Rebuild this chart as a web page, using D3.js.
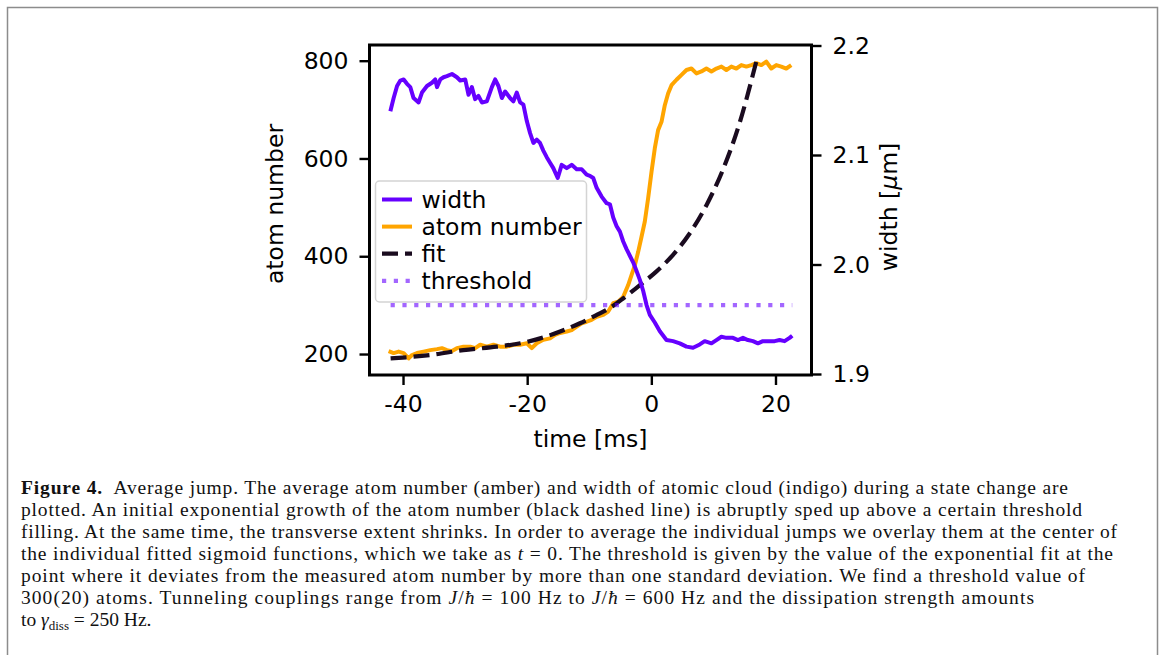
<!DOCTYPE html>
<html><head><meta charset="utf-8">
<script src="https://cdn.jsdelivr.net/npm/d3@7"></script>
<style>body{margin:0;background:#fff}svg{display:block}</style>
</head><body>
<svg id="chart" width="1163" height="655"></svg>
<script>
// ---- data ----
const widthTime = [-42.04,-41.51,-40.96,-40.43,-39.90,-39.36,-38.83,-38.30,-37.49,-36.95,-36.14,-35.34,-34.81,-34.53,-34.00,-33.47,-32.93,-32.12,-31.32,-30.79,-29.98,-29.45,-28.91,-28.38,-27.85,-27.30,-26.50,-25.69,-25.16,-24.63,-24.08,-23.55,-22.75,-22.22,-21.67,-21.14,-20.61,-20.06,-19.53,-19.00,-18.46,-17.93,-17.40,-16.85,-16.32,-15.79,-15.08,-14.44,-13.63,-12.83,-12.03,-11.22,-10.42,-9.89,-9.36,-8.81,-8.01,-7.20,-6.67,-6.14,-5.59,-5.06,-4.53,-3.99,-3.46,-2.93,-2.38,-1.85,-1.32,-0.77,-0.24,0.56,1.37,2.44,3.50,4.58,5.66,6.72,7.80,8.60,9.68,10.48,11.29,12.09,13.15,13.95,14.76,15.56,16.37,17.17,17.97,19.05,19.86,20.66,21.46,22.27,22.70];
const widthValues = [2.140,2.152,2.163,2.168,2.169,2.165,2.162,2.152,2.148,2.157,2.163,2.166,2.169,2.162,2.169,2.171,2.172,2.174,2.171,2.168,2.169,2.155,2.162,2.151,2.154,2.148,2.149,2.162,2.169,2.163,2.152,2.158,2.152,2.149,2.157,2.148,2.146,2.131,2.120,2.111,2.114,2.111,2.104,2.098,2.093,2.088,2.079,2.091,2.088,2.091,2.087,2.087,2.082,2.081,2.079,2.070,2.062,2.056,2.055,2.043,2.035,2.030,2.021,2.014,2.008,2.002,1.994,1.986,1.976,1.963,1.954,1.947,1.939,1.931,1.930,1.928,1.925,1.924,1.927,1.930,1.928,1.931,1.934,1.933,1.933,1.931,1.933,1.931,1.930,1.928,1.930,1.930,1.930,1.931,1.930,1.933,1.935];

const atomTime = [-42.32,-41.51,-40.71,-39.90,-39.10,-38.55,-37.75,-36.69,-35.61,-34.53,-33.73,-32.93,-32.12,-31.32,-30.26,-29.18,-28.38,-27.57,-26.50,-25.43,-24.36,-23.28,-22.22,-21.14,-20.06,-19.26,-18.46,-17.40,-16.32,-15.52,-14.71,-13.63,-12.83,-12.03,-11.22,-10.42,-9.62,-8.81,-7.75,-6.95,-6.14,-5.34,-4.53,-3.73,-3.18,-2.65,-2.12,-1.58,-1.05,-0.51,0.03,0.56,1.09,1.64,2.17,2.70,3.25,4.05,4.86,5.66,6.46,7.27,8.07,8.87,9.68,10.48,11.29,12.09,12.89,13.70,14.50,15.31,16.11,16.91,17.72,18.52,19.32,20.13,20.93,21.74,22.54];
const atomValues = [206,202,205,202,191,198,202,205,208,210,212,208,206,212,215,215,212,219,215,219,215,215,219,219,222,212,222,229,232,239,243,246,249,256,263,266,270,276,280,287,304,307,317,341,362,382,409,440,471,519,573,621,658,675,709,733,750,761,771,781,784,774,778,784,778,784,788,781,788,784,791,788,791,795,791,798,784,791,788,784,791];

const fitTime = [-42.0,-35.6,-30.3,-24.9,-21.1,-17.9,-14.7,-11.5,-8.8,-6.7,-4.5,-1.85,0.84,3.5,6.2,8.9,11.5,14.2,16.9];
const fitValues = [191,198,208,215,222,232,246,263,280,294,314,341,369,403,447,505,576,672,798];

const thresholdTime = [-42.0, 22.7];
const thresholdValue = 300;

const xTicks = [-40, -20, 0, 20];
const xTickLabels = ["-40", "-20", "0", "20"];
const leftTicks = [200, 400, 600, 800];
const rightTicks = [1.9, 2.0, 2.1, 2.2];
const rightTickLabels = ["1.9", "2.0", "2.1", "2.2"];
const legendLabels = ["width", "atom number", "fit", "threshold"];

const captionLines = [
  [["Figure 4.", "b"], ["  Average jump. The average atom number (amber) and width of atomic cloud (indigo) during a state change are", ""]],
  [["plotted. An initial exponential growth of the atom number (black dashed line) is abruptly sped up above a certain threshold", ""]],
  [["filling. At the same time, the transverse extent shrinks. In order to average the individual jumps we overlay them at the center of", ""]],
  [["the individual fitted sigmoid functions, which we take as ", ""], ["t", "i"], [" = 0. The threshold is given by the value of the exponential fit at the", ""]],
  [["point where it deviates from the measured atom number by more than one standard deviation. We find a threshold value of", ""]],
  [["300(20) atoms. Tunneling couplings range from ", ""], ["J", "i"], ["/", ""], ["ħ", "i"], [" = 100 Hz to ", ""], ["J", "i"], ["/", ""], ["ħ", "i"], [" = 600 Hz and the dissipation strength amounts", ""]],
  [["to ", ""], ["γ", "i"], ["diss", "sub"], [" = 250 Hz.", ""]]
];
const captionEnds = [1068, 1082, 1117, 1113, 1085, 1034, null];

// ---- styles ----
const C_WIDTH = "#6600ff", C_ATOM = "#ffa500", C_FIT = "#1a0b1f";
const FONT = "'DejaVu Sans', sans-serif";
const FS = "23.5px";

const svg = d3.select("#chart");
svg.append("rect").attr("width", 1163).attr("height", 655).attr("fill", "#fff");
// page frame
svg.append("path").attr("d", "M7.5,660 V7.5 H1157.5 V660").attr("fill", "none").attr("stroke", "#8c8c8c").attr("stroke-width", 1.5);

const L = 369.5, R = 811.5, T = 45, B = 375;
const x = d3.scaleLinear().domain([-45.4, 25.8]).range([L, R]);
const yL = d3.scaleLinear().domain([157.1, 832.1]).range([B, T]);
const yR = d3.scaleLinear().domain([1.9, 2.2]).range([374, 45.5]);

const g = svg.append("g");

// data lines
const atomLine = d3.line().x(d => x(d[0])).y(d => yL(d[1]));
g.append("path").datum(d3.zip(atomTime, atomValues)).attr("d", atomLine)
  .attr("fill", "none").attr("stroke", C_ATOM).attr("stroke-width", 4).attr("stroke-linejoin", "round");

const fitLine = d3.line().curve(d3.curveMonotoneX).x(d => x(d[0])).y(d => yL(d[1]));
g.append("path").datum(d3.zip(fitTime, fitValues)).attr("d", fitLine)
  .attr("fill", "none").attr("stroke", C_FIT).attr("stroke-width", 4.2).attr("stroke-dasharray", "16,7");

g.append("path").datum(thresholdTime.map(t => [t, thresholdValue])).attr("d", atomLine)
  .attr("fill", "none").attr("stroke", C_WIDTH).attr("stroke-opacity", 0.6).attr("stroke-width", 4.2).attr("stroke-dasharray", "4.2,7.6");

const widthLine = d3.line().x(d => x(d[0])).y(d => yR(d[1]));
g.append("path").datum(d3.zip(widthTime, widthValues)).attr("d", widthLine)
  .attr("fill", "none").attr("stroke", C_WIDTH).attr("stroke-width", 4).attr("stroke-linejoin", "round");

// axes
function styleAxis(sel) {
  sel.select(".domain").remove();
  sel.selectAll(".tick line").attr("stroke", "#000").attr("stroke-width", 2.4);
  sel.selectAll(".tick text").attr("fill", "#000").style("font-family", FONT).style("font-size", FS);
}
svg.append("g").attr("transform", `translate(0,${B})`)
  .call(d3.axisBottom(x).tickValues(xTicks).tickFormat((d, i) => xTickLabels[i]).tickSize(10).tickPadding(10))
  .call(styleAxis);
svg.append("g").attr("transform", `translate(${L},0)`)
  .call(d3.axisLeft(yL).tickValues(leftTicks).tickSize(10).tickPadding(11))
  .call(styleAxis);
svg.append("g").attr("transform", `translate(${R},0)`)
  .call(d3.axisRight(yR).tickValues(rightTicks).tickFormat((d, i) => rightTickLabels[i]).tickSize(10).tickPadding(11))
  .call(styleAxis);

// frame
svg.append("rect").attr("x", L).attr("y", T).attr("width", R - L).attr("height", B - T)
  .attr("fill", "none").attr("stroke", "#000").attr("stroke-width", 3);

// axis labels
svg.append("text").attr("x", (L + R) / 2).attr("y", 447).attr("text-anchor", "middle")
  .style("font-family", FONT).style("font-size", FS).text("time [ms]");
svg.append("text").attr("transform", "translate(283,204) rotate(-90)").attr("text-anchor", "middle")
  .style("font-family", FONT).style("font-size", FS).text("atom number");
const wl = svg.append("text").attr("transform", "translate(897,207) rotate(-90)").attr("text-anchor", "middle")
  .style("font-family", FONT).style("font-size", FS);
wl.append("tspan").text("width [");
wl.append("tspan").style("font-style", "italic").text("μ");
wl.append("tspan").text("m]");

// legend
const lg = svg.append("g");
lg.append("rect").attr("x", 375.5).attr("y", 181).attr("width", 211).attr("height", 121).attr("rx", 4)
  .attr("fill", "#fff").attr("fill-opacity", 0.8).attr("stroke", "#d4d4d4").attr("stroke-width", 1.5);
const legendStyles = [
  {stroke: C_WIDTH, dash: null, w: 4, op: 1},
  {stroke: C_ATOM, dash: null, w: 4, op: 1},
  {stroke: C_FIT, dash: "16,7", w: 4.2, op: 1},
  {stroke: C_WIDTH, dash: "4.2,7.6", w: 4.2, op: 0.6}
];
legendLabels.forEach((lab, i) => {
  const cy = 199.5 + i * 27.1;
  const s = legendStyles[i];
  lg.append("line").attr("x1", 382).attr("x2", 412).attr("y1", cy).attr("y2", cy)
    .attr("stroke", s.stroke).attr("stroke-width", s.w).attr("stroke-opacity", s.op)
    .attr("stroke-dasharray", s.dash);
  lg.append("text").attr("x", 421.5).attr("y", cy + 8)
    .style("font-family", FONT).style("font-size", FS).text(lab);
});

// caption
const capG = svg.append("g").style("font-family", "'Liberation Serif', serif").style("font-size", "19.5px").attr("fill", "#111");
const capX = 21;
captionLines.forEach((segs, i) => {
  const t = capG.append("text").attr("x", capX).attr("y", 494 + i * 22).attr("xml:space", "preserve").style("white-space", "pre");
  if (captionEnds[i]) t.attr("textLength", captionEnds[i] - capX).attr("lengthAdjust", "spacing");
  segs.forEach(([txt, st]) => {
    const sp = t.append("tspan").text(txt);
    if (st === "b") sp.style("font-weight", "bold");
    if (st === "i") sp.style("font-style", "italic");
    if (st === "sub") { sp.style("font-size", "13px").attr("dy", 4); }
  });
  const idx = segs.findIndex(s => s[1] === "sub");
  if (idx >= 0) {
    const nodes = t.selectAll("tspan").nodes();
    if (nodes[idx + 1]) d3.select(nodes[idx + 1]).attr("dy", -4);
  }
});
</script>
</body></html>
